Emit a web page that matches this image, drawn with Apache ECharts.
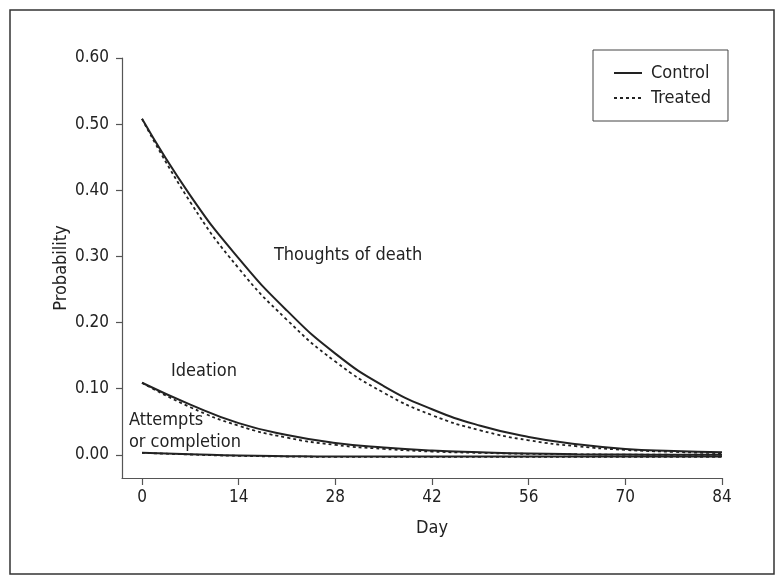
<!DOCTYPE html>
<html>
<head>
<meta charset="utf-8">
<script src="https://cdn.jsdelivr.net/npm/echarts@6/dist/echarts.min.js"></script>
<style>html,body{margin:0;padding:0;background:#fff}#chart{width:779px;height:582px}</style>
</head>
<body>
<div id="chart"></div>
<script>
var days = [0, 7, 14, 21, 28, 35, 42, 49, 56, 63, 70, 77, 84];
var xTicks = [0, 14, 28, 42, 56, 70, 84];
var yTicks = [0, 0.1, 0.2, 0.3, 0.4, 0.5, 0.6];

var thoughtsControl = [0.508, 0.392, 0.297, 0.218, 0.153, 0.104, 0.069, 0.044, 0.027, 0.016, 0.009, 0.006, 0.004];
var thoughtsTreated = [0.508, 0.382, 0.282, 0.204, 0.141, 0.094, 0.060, 0.037, 0.022, 0.013, 0.0075, 0.0045, 0.0025];
var ideationControl = [0.109, 0.076, 0.048, 0.030, 0.018, 0.011, 0.0065, 0.004, 0.002, 0.001, 0.0005, 0.0002, 0.0];
var ideationTreated = [0.109, 0.072, 0.044, 0.026, 0.015, 0.009, 0.005, 0.003, 0.0015, 0.0008, 0.0003, 0.0001, 0.0];
var attemptsControl = [0.003, 0.001, -0.001, -0.002, -0.0025, -0.0025, -0.0025, -0.0025, -0.0025, -0.0025, -0.0025, -0.0025, -0.0025];
var attemptsTreated = [0.003, 0.0005, -0.0015, -0.0025, -0.003, -0.003, -0.003, -0.003, -0.003, -0.003, -0.003, -0.003, -0.003];

var annotations = [
  { text: 'Thoughts of death', day: 19.1, value: 0.302 },
  { text: 'Ideation', day: 4.2, value: 0.126 },
  { text: 'Attempts\nor completion', day: -1.9, value: 0.035 }
];

var FONT = "'Liberation Sans Narrow', 'DejaVu Sans Condensed', sans-serif";
var INK = '#222';

function pairs(vals) { return days.map(function (d, i) { return [d, vals[i]]; }); }

function mkSeries(name, vals, dashed) {
  return {
    name: name, type: 'line', data: pairs(vals), smooth: true, symbol: 'none',
    lineStyle: { color: INK, width: dashed ? 1.8 : 2, type: dashed ? [3, 3] : 'solid' },
    itemStyle: { color: INK },
    emphasis: { disabled: true }, z: dashed ? 3 : 4
  };
}

var chart = echarts.init(document.getElementById('chart'));
chart.setOption({
  animation: false,
  backgroundColor: '#fff',
  grid: { left: 122, right: 57, top: 58, bottom: 104 },
  legend: {
    data: ['Control', 'Treated'],
    orient: 'vertical', left: 593, top: 50,
    padding: [13, 17, 13, 20],
    itemWidth: 28, itemHeight: 14, itemGap: 5,
    borderColor: '#444', borderWidth: 1,
    itemStyle: { color: 'rgba(0,0,0,0)', borderWidth: 0, opacity: 0 },
    textStyle: { fontFamily: FONT, fontSize: 18, color: INK, lineHeight: 20, padding: [0, 0, 0, 4] },
    selectedMode: false
  },
  xAxis: {
    type: 'value', min: -2.9, max: 84,
    name: 'Day', nameLocation: 'middle', nameGap: 41, nameMoveOverlap: false,
    nameTextStyle: { fontFamily: FONT, fontSize: 18, color: INK, padding: [0, 0, 0, 20] },
    axisLine: { show: true, onZero: false, lineStyle: { color: '#555', width: 1.2 } },
    axisTick: { show: true, length: 7, customValues: xTicks, lineStyle: { color: '#555', width: 1.2 } },
    axisLabel: { customValues: xTicks, fontFamily: FONT, fontSize: 17, color: INK, margin: 11 },
    splitLine: { show: false }
  },
  yAxis: {
    type: 'value', min: -0.035, max: 0.6,
    name: 'Probability', nameLocation: 'middle', nameGap: 52, nameMoveOverlap: false,
    nameTextStyle: { fontFamily: FONT, fontSize: 18, color: INK },
    axisLine: { show: true, onZero: false, lineStyle: { color: '#555', width: 1.2 } },
    axisTick: { show: true, length: 6, customValues: yTicks, lineStyle: { color: '#555', width: 1.2 } },
    axisLabel: { customValues: yTicks, fontFamily: FONT, fontSize: 17, color: INK, margin: 13,
      formatter: function (v) { return v.toFixed(2); } },
    splitLine: { show: false }
  },
  series: [
    mkSeries('Control', thoughtsControl, false),
    mkSeries('Treated', thoughtsTreated, true),
    mkSeries('Control', ideationControl, false),
    mkSeries('Treated', ideationTreated, true),
    mkSeries('Control', attemptsControl, false),
    mkSeries('Treated', attemptsTreated, true)
  ]
});

var graphics = [{
  type: 'rect', shape: { x: 10, y: 10, width: 764, height: 564 }, silent: true,
  style: { fill: 'none', stroke: '#333', lineWidth: 1.5 }, z: 0
}];
annotations.forEach(function (a) {
  var p = chart.convertToPixel({ gridIndex: 0 }, [a.day, a.value]);
  graphics.push({
    type: 'text', x: p[0], y: p[1], silent: true,
    style: { text: a.text, fontFamily: FONT, fontSize: 18, fill: INK, align: 'left', verticalAlign: 'middle', lineHeight: 22 }
  });
});
chart.setOption({ graphic: graphics });
</script>
</body>
</html>
